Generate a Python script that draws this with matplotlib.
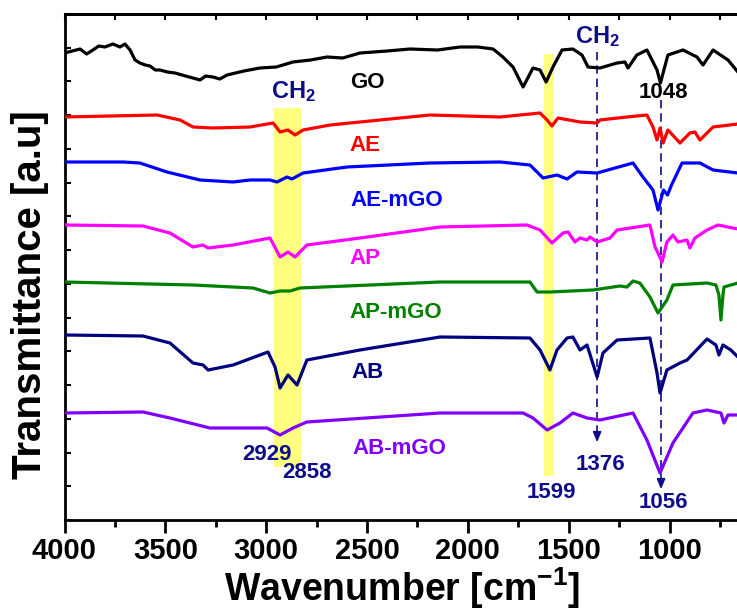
import numpy as np
import matplotlib
matplotlib.use("Agg")
import matplotlib.pyplot as plt
from matplotlib.ticker import MultipleLocator

police = 'Liberation Sans'
plt.rcParams['font.family'] = [police, 'DejaVu Sans']
plt.rcParams['font.weight'] = 'bold'
plt.rcParams['mathtext.fontset'] = 'custom'
plt.rcParams['mathtext.rm'] = police + ':bold'
plt.rcParams['mathtext.bf'] = police + ':bold'
plt.rcParams['mathtext.default'] = 'bf'

# spectres (nombre d'onde, transmittance decalee en u.a.)
go_x = [4000, 3923, 3890, 3859, 3830, 3800, 3760, 3725, 3700, 3675, 3650, 3626, 3600, 3576,
        3550, 3526, 3490, 3452, 3400, 3363, 3328, 3300, 3264, 3230, 3194, 3110, 3031, 2950,
        2867, 2780, 2698, 2620, 2535, 2400, 2287, 2150, 2039, 1950, 1875, 1826, 1776, 1726,
        1677, 1642, 1612, 1578, 1533, 1479, 1434, 1404, 1345, 1260, 1221, 1206, 1162, 1112,
        1062, 1045, 1008, 933, 864, 834, 784, 710, 661, 650]
go_y = [467, 471, 466, 470, 474, 473, 476, 473, 476, 470, 460, 457, 455, 454,
        450, 450, 448, 447, 444, 442, 440, 444, 443, 441, 445, 449, 452, 453,
        458, 460, 463, 462, 467, 469, 471, 470, 473, 473, 471, 463, 453, 433,
        452, 450, 438, 453, 470, 471, 465, 453, 452, 457, 458, 452, 465, 470,
        450, 437, 465, 470, 463, 455, 470, 460, 448, 445]

ae_x = [4000, 3541, 3427, 3363, 3264, 3080, 2966, 2931, 2892, 2857, 2817, 2683, 2436, 2188,
        1840, 1642, 1607, 1583, 1553, 1444, 1359, 1345, 1211, 1112, 1082, 1062, 1047, 1032,
        1008, 948, 899, 874, 849, 784, 661, 650]
ae_y = [403, 405, 400, 393, 392, 393, 397, 388, 390, 385, 390, 395, 400, 405,
        403, 407, 400, 394, 402, 398, 397, 400, 403, 405, 393, 380, 392, 377,
        390, 377, 387, 388, 380, 393, 396, 396]

aemgo_x = [4000, 3710, 3626, 3492, 3328, 3164, 3080, 2981, 2946, 2897, 2872, 2817, 2599, 2188,
           1840, 1692, 1627, 1558, 1508, 1459, 1359, 1181, 1132, 1082, 1057, 1030, 1010, 990,
           938, 849, 784, 661, 650]
aemgo_y = [358, 358, 357, 348, 340, 338, 340, 340, 338, 343, 341, 347, 353, 357,
           358, 355, 342, 345, 341, 348, 347, 357, 343, 330, 310, 330, 325, 335,
           357, 357, 350, 347, 347]

ap_x = [4000, 3611, 3477, 3363, 3313, 3288, 3164, 2981, 2931, 2892, 2857, 2798, 2535, 2138,
        1707, 1642, 1583, 1528, 1503, 1469, 1444, 1409, 1394, 1359, 1295, 1260, 1097, 1072,
        1057, 1037, 1013, 983, 958, 913, 899, 874, 814, 760, 661, 650]
ap_y = [295, 294, 287, 273, 275, 272, 275, 282, 263, 268, 263, 275, 282, 293,
        295, 290, 277, 287, 288, 278, 282, 280, 283, 278, 282, 290, 295, 273,
        267, 258, 278, 285, 278, 280, 272, 282, 290, 295, 291, 291]

apmgo_x = [4000, 3363, 3065, 2981, 2931, 2882, 2832, 2138, 1692, 1657, 1593, 1379, 1246, 1211,
           1181, 1147, 1097, 1057, 1013, 983, 814, 770, 755, 745, 735, 730, 661, 650]
apmgo_y = [238, 235, 232, 227, 229, 229, 232, 238, 238, 228, 228, 230, 234, 233,
           239, 237, 223, 207, 220, 235, 237, 235, 225, 200, 225, 233, 237, 237]

ab_x = [4000, 3611, 3477, 3363, 3313, 3288, 3164, 2991, 2956, 2931, 2892, 2847, 2798, 2535,
        2138, 1692, 1642, 1593, 1558, 1508, 1479, 1444, 1409, 1359, 1330, 1260, 1097, 1062,
        1047, 1013, 948, 913, 814, 770, 755, 735, 696, 661, 650]
ab_y = [185, 184, 177, 157, 155, 150, 155, 168, 153, 132, 145, 135, 160, 170,
        183, 182, 170, 150, 170, 182, 183, 170, 175, 143, 167, 180, 182, 147,
        127, 150, 157, 160, 181, 175, 165, 175, 170, 163, 162]

abmgo_x = [4000, 3611, 3477, 3279, 2996, 2931, 2867, 2798, 2138, 1726, 1677, 1607, 1543, 1479,
           1409, 1345, 1181, 1112, 1047, 983, 884, 814, 745, 730, 710, 661, 650]
abmgo_y = [107, 108, 102, 92, 92, 85, 92, 98, 107, 107, 102, 90, 97, 107,
           102, 100, 107, 80, 47, 77, 107, 110, 107, 97, 105, 105, 105]

series = [(go_x, go_y, 'black'), (ae_x, ae_y, '#ff0000'), (aemgo_x, aemgo_y, '#0000ff'),
          (ap_x, ap_y, '#ff00ff'), (apmgo_x, apmgo_y, '#008000'), (ab_x, ab_y, '#000080'),
          (abmgo_x, abmgo_y, '#8000ff')]

# etiquettes des echantillons
noms = ['GO', 'AE', 'AE-mGO', 'AP', 'AP-mGO', 'AB', 'AB-mGO']
noms_x = [2500, 2510, 2351, 2510, 2356, 2495, 2341]
noms_y = [437, 375, 320, 262, 208, 147, 72]
noms_c = ['black', '#ff0000', '#0000ff', '#ff00ff', '#008000', '#000080', '#8000ff']

# pics annotes
pics = ['2929', '2858', '1599', '1376', '1056']
pics_x = [2996, 2798, 1588, 1345, 1032]
pics_y = [65, 47, 28, 55, 18]

bandes = [(2960, 2827, 53, 412), (1622, 1573, 44, 466)]

navy = '#0c0c8c'

fig = plt.figure(figsize=(7.37, 6.12), dpi=100)
ax = fig.add_axes([64.5 / 737, 92 / 612, 675.6 / 737, 506 / 612])

for x0, x1, y0, y1 in bandes:
    ax.fill_betweenx([y0, y1], x0, x1, color='#ffff80', lw=0, zorder=0)

for x, y, c in series:
    ax.plot(x, y, color=c, lw=2.3, solid_joinstyle='round', zorder=3)

for n, x, y, c in zip(noms, noms_x, noms_y, noms_c):
    ax.text(x, y, n, color=c, fontsize=16, ha='center', va='center', zorder=4)

for n, x, y in zip(pics, pics_x, pics_y):
    ax.text(x, y, n, color=navy, fontsize=16, ha='center', va='center', zorder=4)
ax.text(1032, 427, '1048', color='black', fontsize=16, ha='center', va='center', zorder=4)
ax.text(2867, 428, 'CH$_2$', color=navy, fontsize=17, ha='center', va='center', zorder=4)
ax.text(1355, 483, 'CH$_2$', color=navy, fontsize=17, ha='center', va='center', zorder=4)

# lignes pointillees avec fleches
for xl, ytop, ybas in [(1359, 468, 75), (1042, 420, 28)]:
    ax.plot([xl, xl], [ytop, ybas + 8], color=navy, lw=1.2, ls=(0, (5, 3)), zorder=2)
    ax.annotate('', xy=(xl, ybas), xytext=(xl, ybas + 14),
                arrowprops=dict(arrowstyle='-|>,head_length=0.6,head_width=0.25',
                                color=navy, lw=1.2), zorder=2)

ax.set_xlim(4000, 650)
ax.set_ylim(0, 506)
ax.xaxis.set_major_locator(MultipleLocator(500))
ax.xaxis.set_minor_locator(MultipleLocator(250))
ax.yaxis.set_major_locator(MultipleLocator(506 / 15))
ax.tick_params(axis='x', which='major', direction='out', length=9, width=2, pad=3,
               labelsize=21, top=False)
ax.tick_params(axis='x', which='minor', direction='out', length=5, width=2, top=False)
ax.tick_params(axis='y', which='major', direction='in', length=4, width=1.5,
               labelleft=False, right=False)
for s in ax.spines.values():
    s.set_linewidth(2)
ax.spines['right'].set_visible(False)

sec = ax.secondary_xaxis('top')
sec.xaxis.set_major_locator(MultipleLocator(250))
sec.tick_params(direction='in', length=4, width=1.5, labeltop=False)
sec.spines['top'].set_linewidth(2)

fig.text(402 / 737, 1 - 601 / 612, 'Wavenumber [cm$^{-1}$]', fontsize=27,
         ha='center', va='baseline')
fig.text(30 / 737, 1 - 295 / 612, 'Transmittance [a.u]', fontsize=29,
         ha='center', va='center', rotation=90)

fig.savefig('out.png', dpi=100)
